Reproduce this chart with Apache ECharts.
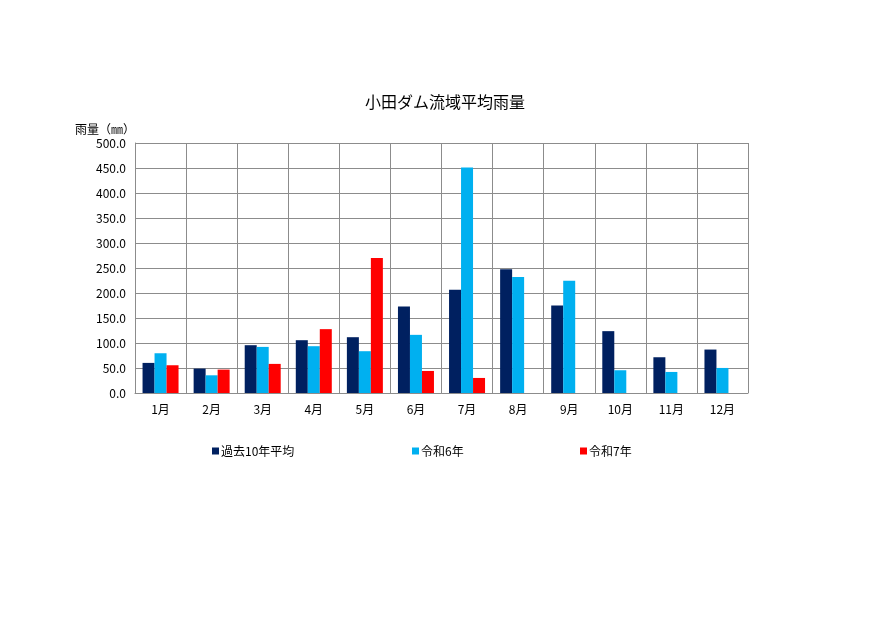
<!DOCTYPE html>
<html>
<head>
<meta charset="utf-8">
<script src="https://cdn.jsdelivr.net/npm/echarts@6/dist/echarts.min.js"></script>
<style>
html, body { margin: 0; padding: 0; background: #fff; }
#main { width: 890px; height: 630px; }
</style>
</head>
<body>
<div id="main"></div>
<script>
var months = ['1月', '2月', '3月', '4月', '5月', '6月', '7月', '8月', '9月', '10月', '11月', '12月'];
// 過去10年平均
var avg10 = [60.2, 48.8, 95.6, 105.6, 111.6, 173.1, 206.6, 247.3, 175.1, 123.7, 71.5, 86.9];
// 令和6年
var r6 = [79.5, 35.4, 92.2, 93.6, 83.6, 116.3, 451.2, 232.0, 224.6, 45.5, 42.1, 50.1];
// 令和7年 (8月以降は未観測)
var r7 = [55.5, 46.8, 58.2, 127.7, 270.0, 44.1, 30.1, null, null, null, null, null];

var fontJP = '"Noto Sans CJK JP", sans-serif';
var gridColor = '#8c8c8c';

var myChart = echarts.init(document.getElementById('main'));
var option = {
	animation : false,
	backgroundColor : '#ffffff',
	textStyle : {
		fontFamily : fontJP
	},
	title : {
		text : '小田ダム流域平均雨量',
		left : 'center',
		top : 89,
		textStyle : {
			color : '#000',
			fontWeight : 'normal',
			fontSize : 16,
			fontFamily : fontJP
		}
	},
	color : [ '#002060', '#00b0f0', '#ff0000' ],
	legend : [ {
		left : 207,
		top : 440,
		data : [ '過去10年平均' ]
	}, {
		left : 407,
		top : 440,
		data : [ '令和6年' ]
	}, {
		left : 575,
		top : 440,
		data : [ '令和7年' ]
	} ].map(function(l) {
		l.itemWidth = 7;
		l.itemHeight = 7;
		l.itemGap = 2;
		l.icon = 'rect';
		l.textStyle = { color : '#000', fontSize : 12, fontFamily : fontJP, padding : [ 0, 0, 0, -3 ] };
		return l;
	}),
	grid : {
		left : 135,
		right : 142,
		top : 143,
		height : 250
	},
	xAxis : {
		type : 'category',
		data : months,
		boundaryGap : true,
		axisLine : { lineStyle : { color : gridColor } },
		axisTick : { show : false },
		splitLine : { show : true, lineStyle : { color : gridColor, width : 1 } },
		axisLabel : { color : '#000', fontSize : 12, margin : 10, fontFamily : fontJP }
	},
	yAxis : {
		type : 'value',
		min : 0,
		max : 500,
		interval : 50,
		name : '雨量（㎜）',
		nameLocation : 'end',
		nameGap : 8,
		nameTextStyle : { color : '#000', fontSize : 12, align : 'right', fontFamily : fontJP },
		axisLine : { show : true, lineStyle : { color : gridColor } },
		axisTick : { show : false },
		splitLine : { lineStyle : { color : gridColor, width : 1 } },
		axisLabel : {
			color : '#000',
			fontSize : 12,
			margin : 9,
			fontFamily : fontJP,
			formatter : function(v) { return v.toFixed(1); }
		}
	},
	series : [ {
		name : '過去10年平均',
		type : 'bar',
		barWidth : 12,
		barGap : '0%',
		data : avg10
	}, {
		name : '令和6年',
		type : 'bar',
		barWidth : 12,
		barGap : '0%',
		data : r6
	}, {
		name : '令和7年',
		type : 'bar',
		barWidth : 12,
		barGap : '0%',
		data : r7
	} ]
};
myChart.setOption(option);
</script>
</body>
</html>
